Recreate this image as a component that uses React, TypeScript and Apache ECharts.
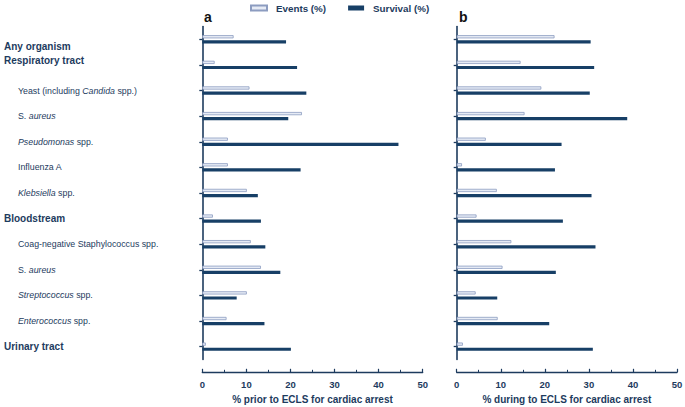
import React, { useEffect, useRef } from "react";
import * as echarts from "echarts";

// Category labels: segments of [text, italic]
const categoryLabels: [string, boolean][][] = [
  [["Any organism", false]],
  [["Respiratory tract", false]],
  [["Yeast (including ", false], ["Candida", true], [" spp.)", false]],
  [["S. ", false], ["aureus", true]],
  [["Pseudomonas", true], [" spp.", false]],
  [["Influenza A", false]],
  [["Klebsiella", true], [" spp.", false]],
  [["Bloodstream", false]],
  [["Coag-negative Staphylococcus spp.", false]],
  [["S. ", false], ["aureus", true]],
  [["Streptococcus", true], [" spp.", false]],
  [["Enterococcus", true], [" spp.", false]],
  [["Urinary tract", false]],
];
const headingFlags = [true, true, false, false, false, false, false, true, false, false, false, false, true];
const categories = categoryLabels.map((segs) => segs.map((s) => s[0]).join(""));

// Panel a: prior to ECLS
const eventsPrior = [7.1, 2.8, 10.7, 22.6, 5.8, 5.8, 10.1, 2.4, 11.0, 13.3, 10.1, 5.5, 0.8];
const survivalPrior = [19.0, 21.5, 23.6, 19.5, 44.5, 22.3, 12.6, 13.3, 14.3, 17.7, 7.8, 14.1, 20.1];
// Panel b: during ECLS
const eventsDuring = [22.2, 14.5, 19.2, 15.4, 6.6, 1.2, 9.1, 4.5, 12.4, 10.4, 4.3, 9.3, 1.4];
const survivalDuring = [30.4, 31.2, 30.2, 38.7, 23.8, 22.3, 30.6, 24.1, 31.5, 22.5, 9.2, 21.0, 30.9];

const xTicks = [0, 50, 10];
const seriesNames = ["Events (%)", "Survival (%)"];
const axisTitles = ["% prior to ECLS for cardiac arrest", "% during to ECLS for cardiac arrest"];

const NAVY = "#1d3b5e";
const BAR_DARK = "#173f66";
const BAR_LIGHT = "#e6ebf5";
const BAR_BORDER = "#8c9cc0";
const FONT = "'Liberation Sans', Arial, sans-serif";

export default function App() {
  const ref = useRef<HTMLDivElement>(null);
  useEffect(() => {
    document.body.style.margin = "0";
    const chart = echarts.init(ref.current!, null, { renderer: "svg" });

    const labelFormatter = (_v: string, idx: number) => {
      const segs = categoryLabels[idx];
      if (headingFlags[idx]) {
        const key = idx === 0 ? "h0" : idx === 1 ? "h1" : "h";
        return `{${key}|${segs.map((s) => s[0]).join("")}}`;
      }
      return segs
        .map((s, k) => {
          const base = s[1] ? "i" : "s";
          return `{${base}${k === 0 ? "f" : ""}|${s[0]}}`;
        })
        .join("");
    };

    const head = { fontSize: 10, color: NAVY, fontFamily: FONT, fontWeight: "bold" as const };
    const sub = { fontSize: 8.8, color: NAVY, fontFamily: FONT, fontWeight: "normal" as const };
    const rich = {
      h: { ...head },
      h0: { ...head, padding: [15, 0, 0, 0] },
      h1: { ...head, padding: [0, 0, 8, 0] },
      s: { ...sub },
      sf: { ...sub, padding: [0, 0, 0, 14] },
      i: { ...sub, fontStyle: "italic" as const },
      if: { ...sub, fontStyle: "italic" as const, padding: [0, 0, 0, 14] },
    };

    const grids = [
      { left: 202.3, width: 220.4, top: 26.5, height: 333, containLabel: false, outerBoundsMode: "none" },
      { left: 456.7, width: 220.3, top: 26.5, height: 333, containLabel: false, outerBoundsMode: "none" },
    ];

    const makeX = (gi: number) => ({
      type: "value",
      gridIndex: gi,
      min: xTicks[0],
      max: xTicks[1],
      interval: xTicks[2],
      offset: 12.8,
      axisLine: { show: true, lineStyle: { color: NAVY, width: 1.3 } },
      axisTick: { show: true, inside: true, length: 3.5, lineStyle: { color: NAVY, width: 1.2 } },
      minorTick: { show: true, splitNumber: 2, length: 2.5, lineStyle: { color: NAVY, width: 1 } },
      splitLine: { show: false },
      axisLabel: { margin: 7, color: NAVY, fontFamily: FONT, fontSize: 9.5, fontWeight: "bold" },
      name: axisTitles[gi],
      nameLocation: "middle",
      nameGap: 22,
      nameTextStyle: { color: NAVY, fontFamily: FONT, fontSize: 10, fontWeight: "bold" },
    });

    const makeY = (gi: number) => ({
      type: "category",
      gridIndex: gi,
      inverse: true,
      data: categories,
      offset: 11.6,
      axisLine: { show: true, lineStyle: { color: NAVY, width: 1.6 } },
      axisTick: { show: true, alignWithLabel: true, length: 3, lineStyle: { color: NAVY, width: 1.3 } },
      axisLabel:
        gi === 0
          ? { show: true, align: "left", margin: 186.7, formatter: labelFormatter, rich }
          : { show: false },
      splitLine: { show: false },
    });

    const evStyle = { color: BAR_LIGHT, borderColor: BAR_BORDER, borderWidth: 0.8 };
    const svStyle = { color: BAR_DARK };

    chart.setOption({
      animation: false,
      legend: {
        data: seriesNames,
        left: 250,
        top: 3,
        padding: 0,
        itemWidth: 16,
        itemHeight: 5,
        itemGap: 22,
        icon: "rect",
        formatter: (name: string) => `{t|${name}}`,
        textStyle: {
          color: NAVY,
          fontFamily: FONT,
          fontSize: 9.8,
          fontWeight: "bold",
          rich: { t: { color: NAVY, fontFamily: FONT, fontSize: 9.8, fontWeight: "bold", padding: [0, 0, 0, 4] } },
        },
      },
      grid: grids,
      xAxis: [makeX(0), makeX(1)],
      yAxis: [makeY(0), makeY(1)],
      series: [
        { name: seriesNames[0], type: "bar", xAxisIndex: 0, yAxisIndex: 0, data: eventsPrior, barWidth: 3.2, barGap: "60%", itemStyle: evStyle },
        { name: seriesNames[1], type: "bar", xAxisIndex: 0, yAxisIndex: 0, data: survivalPrior, barWidth: 3.2, barGap: "60%", itemStyle: svStyle },
        { name: seriesNames[0], type: "bar", xAxisIndex: 1, yAxisIndex: 1, data: eventsDuring, barWidth: 3.2, barGap: "60%", itemStyle: evStyle },
        { name: seriesNames[1], type: "bar", xAxisIndex: 1, yAxisIndex: 1, data: survivalDuring, barWidth: 3.2, barGap: "60%", itemStyle: svStyle },
      ],
      graphic: [
        { type: "text", left: 204, top: 10, style: { text: "a", fontFamily: FONT, fontSize: 14, fontWeight: "bold", fill: "#111" } },
        { type: "text", left: 459, top: 10, style: { text: "b", fontFamily: FONT, fontSize: 14, fontWeight: "bold", fill: "#111" } },
      ],
    });
    return () => chart.dispose();
  }, []);
  return <div ref={ref} style={{ width: 685, height: 407 }} />;
}
